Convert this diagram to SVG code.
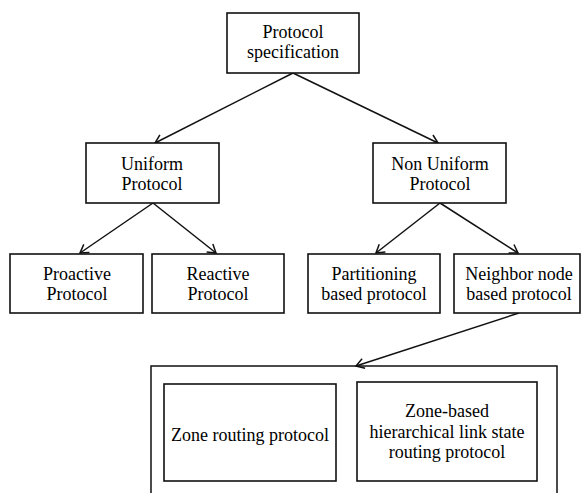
<svg xmlns="http://www.w3.org/2000/svg" width="582" height="493" viewBox="0 0 582 493">
<defs>
<marker id="ah" markerUnits="userSpaceOnUse" markerWidth="14" markerHeight="14" refX="10" refY="6" orient="auto">
<path d="M2,1 L10,6 L2,11" fill="none" stroke="#111" stroke-width="1.5"/>
</marker>
</defs>
<rect width="582" height="493" fill="#fff"/>
<g id="connectors" fill="none" stroke="#111" stroke-width="1.5">
<line x1="293" y1="73" x2="155" y2="143" marker-end="url(#ah)"/>
<line x1="293" y1="73" x2="438" y2="143" marker-end="url(#ah)"/>
<line x1="153" y1="203" x2="80" y2="253" marker-end="url(#ah)"/>
<line x1="153" y1="203" x2="216" y2="253" marker-end="url(#ah)"/>
<line x1="440" y1="203" x2="376" y2="253" marker-end="url(#ah)"/>
<line x1="440" y1="203" x2="518" y2="253" marker-end="url(#ah)"/>
<line x1="519" y1="313" x2="356" y2="366" marker-end="url(#ah)"/>
</g>
<g id="nodes" stroke-width="1.6" text-anchor="middle" font-family="Liberation Serif" font-size="18">
<g id="n-spec">
<rect x="227" y="13" width="132" height="60" fill="#fff" stroke="#111"/>
<text x="293" y="38">Protocol</text>
<text x="293" y="58">specification</text>
</g>
<g id="n-uniform">
<rect x="86" y="143" width="133" height="60" fill="#fff" stroke="#111"/>
<text x="152" y="170">Uniform</text>
<text x="152" y="190">Protocol</text>
</g>
<g id="n-nonuniform">
<rect x="373" y="143" width="133" height="60" fill="#fff" stroke="#111"/>
<text x="440" y="170">Non Uniform</text>
<text x="440" y="190">Protocol</text>
</g>
<g id="n-proactive">
<rect x="10" y="254" width="133" height="59" fill="#fff" stroke="#111"/>
<text x="77" y="280">Proactive</text>
<text x="77" y="300">Protocol</text>
</g>
<g id="n-reactive">
<rect x="152" y="254" width="132" height="59" fill="#fff" stroke="#111"/>
<text x="218" y="280">Reactive</text>
<text x="218" y="300">Protocol</text>
</g>
<g id="n-partitioning">
<rect x="308" y="254" width="132" height="59" fill="#fff" stroke="#111"/>
<text x="374" y="280">Partitioning</text>
<text x="374" y="300">based protocol</text>
</g>
<g id="n-neighbor">
<rect x="454" y="254" width="126" height="59" fill="#fff" stroke="#111"/>
<text x="519" y="280">Neighbor node</text>
<text x="519" y="300">based protocol</text>
</g>
<g id="n-container">
<path d="M151,493 L151,366 L557,366 L557,493" fill="none" stroke="#111" stroke-width="1.5"/>
</g>
<g id="n-zrp">
<rect x="164" y="384" width="172" height="97" fill="#fff" stroke="#111"/>
<text x="250" y="441">Zone routing protocol</text>
</g>
<g id="n-zhls">
<rect x="357" y="382" width="180" height="99" fill="#fff" stroke="#111"/>
<text x="447" y="417">Zone-based</text>
<text x="447" y="438">hierarchical link state</text>
<text x="447" y="458">routing protocol</text>
</g>
</g>
</svg>
